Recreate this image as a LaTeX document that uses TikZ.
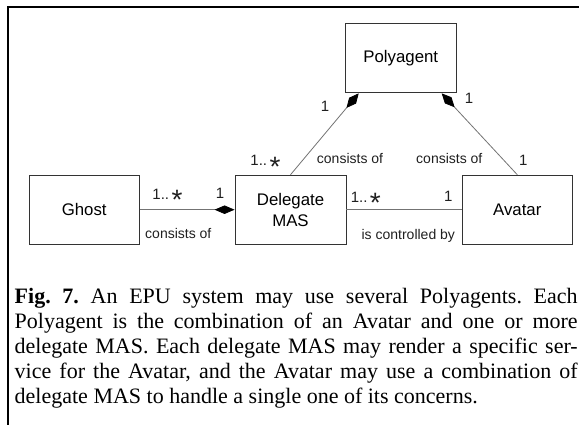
\documentclass[tikz,border=0pt]{standalone}
\usepackage{fontspec}
\setmainfont{Liberation Serif}
\newfontfamily\diagfont{Liberation Sans}
\usetikzlibrary{arrows.meta}
\newcommand\mstar{\raisebox{-10.5pt}{\fontsize{28}{28}\selectfont *}}
\newcommand\many{1..\hspace{2.5pt}\mstar}
\begin{document}
\begin{tikzpicture}[x=1pt,y=-1pt,
  box/.style={draw=black!80, line width=0.9pt, minimum width=110pt, minimum height=69pt,
    inner sep=0pt, align=center, font=\diagfont\fontsize{16.8}{20.7}\selectfont},
  conn/.style={draw=black!55, line width=0.8pt},
  lab/.style={inner sep=0pt, anchor=base, font=\diagfont\fontsize{14}{16}\selectfont, text=black!88},
  mult/.style={lab, font=\diagfont\fontsize{15}{17}\selectfont},
  comp/.style={-{Diamond[length=19pt,width=9pt,color=black,fill=black]}},
]
\useasboundingbox (0,0) rectangle (579,425);
\clip (0,0) rectangle (579,425);
\draw[line width=2pt] (8.3,432) -- (8.3,6.8) -- (590,6.8);

\node[box, minimum width=110.5pt] (poly) at (400.8,58.4) {Polyagent};
\node[box] (ghost) at (84.2,209.7) {Ghost};
\node[box, minimum width=111pt] (del) at (290.5,209.7) {Delegate\\MAS};
\node[box] (ava) at (517.3,209.7) {Avatar};

\draw[conn, comp] (del.north) -- ([xshift=13.6pt]poly.south west);
\draw[conn, comp] (ava.north) -- ([xshift=-14.8pt]poly.south east);
\draw[conn, -{Diamond[length=20pt,width=8.5pt,color=black,fill=black]}] (ghost.east) -- (del.west);
\draw[conn] (del.east) -- (ava.west);

\node[mult] (m1) at (325,111.7) {1};
\node[mult] (m2) at (469,104) {1};
\node[mult] (m3) at (265.5,165.7) {\many};
\node[lab] (c1) at (350,163.8) {consists of};
\node[lab] (c2) at (449.3,163.8) {consists of};
\node[mult] (m4) at (523.3,165.7) {1};
\node[mult] (m5) at (167.5,199.3) {\many};
\node[mult] (m6) at (220,199) {1};
\node[lab] (c3) at (178.3,238.8) {consists of};
\node[mult] (m7) at (365.8,202.3) {\many};
\node[mult] (m8) at (448.3,202) {1};
\node[lab] (c4) at (408.3,239.5) {is controlled by};

\node[anchor=north west, inner sep=0pt, text width=563pt, align=justify,
  font=\fontsize{22}{25}\selectfont\frenchspacing] (cap) at (14.5,285.5)
  {\strut\textbf{Fig. 7.} An EPU system may use several Polyagents. Each\linebreak
   Polyagent is the combination of an Avatar and one or more\linebreak
   delegate MAS. Each delegate MAS may render a specific ser-\linebreak
   vice for the Avatar, and the Avatar may use a combination of\linebreak
   delegate MAS to handle a single one of its concerns.};
\end{tikzpicture}
\end{document}
